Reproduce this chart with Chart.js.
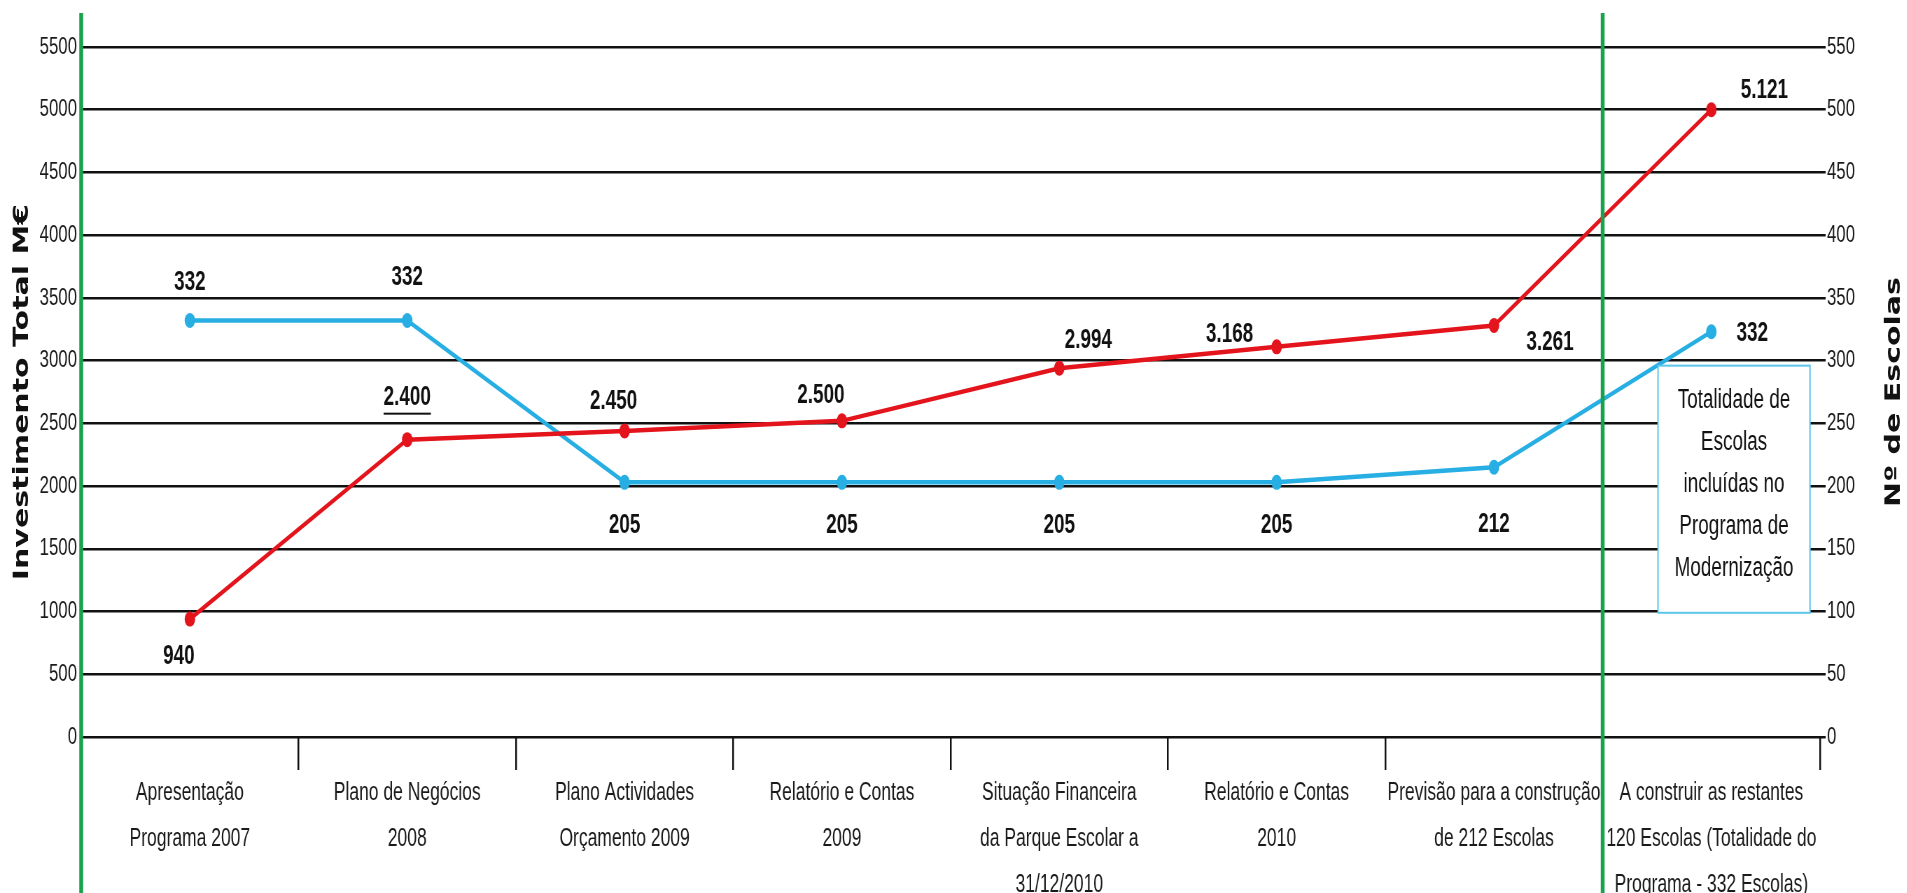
<!DOCTYPE html>
<html lang="pt">
<head>
<meta charset="UTF-8">
<title>Investimento Total e Nº de Escolas</title>
<script src="https://cdn.jsdelivr.net/npm/chart.js@4.4.1/dist/chart.umd.min.js"></script>
<style>
  html, body { margin: 0; padding: 0; background: #fff; overflow: hidden; width: 1907px; height: 893px; }
  /* the reference is squeezed sideways, so draw wide and squeeze the same way */
  #wrap { width: 2724px; height: 893px; transform: scaleX(0.7); transform-origin: 0 0; }
</style>
</head>
<body>
<div id="wrap"><canvas id="chart" width="2724" height="893"></canvas></div>

<script>
const categories = [
  ['Apresentação', 'Programa 2007'],
  ['Plano de Negócios', '2008'],
  ['Plano Actividades', 'Orçamento 2009'],
  ['Relatório e Contas', '2009'],
  ['Situação Financeira', 'da Parque Escolar a', '31/12/2010'],
  ['Relatório e Contas', '2010'],
  ['Previsão para a construção', 'de 212 Escolas'],
  ['A construir as restantes', '120 Escolas (Totalidade do', 'Programa - 332 Escolas)']
];
const investimento = [940, 2370, 2440, 2520, 2940, 3110, 3280, 5000];
const escolas = [332, 332, 203, 203, 203, 203, 215, 323];
const investimentoLabels = ['940', '2.400', '2.450', '2.500', '2.994', '3.168', '3.261', '5.121'];
const escolasLabels = ['332', '332', '205', '205', '205', '205', '212', '332'];
const boxText = ['Totalidade de', 'Escolas', 'incluídas no', 'Programa de', 'Modernização'];
const leftTitle = 'Investimento Total M€';
const rightTitle = 'Nº de Escolas';

const S = 0.7;
const RED = '#e3141c';
const BLUE = '#27aee3';
const GREEN = '#17a24b';
const NARROW = "'Liberation Sans', Arial, sans-serif";

// label offsets from each point (screen px, before the sideways squeeze)
const labelOffsets = [
  [[-11, 37], [0, -42], [-11, -29], [-21, -25], [29, -28], [-47, -12], [56, 17], [53, -19]],
  [[0, -38], [0, -43], [0, 43], [0, 43], [0, 43], [0, 43], [0, 57], [41, 2]]
];
const labelTexts = [investimentoLabels, escolasLabels];

const extras = {
  id: 'extras',
  afterDatasetsDraw(chart) {
    const ctx = chart.ctx;
    ctx.save();
    ctx.font = "bold 27px " + NARROW;
    ctx.fillStyle = '#111';
    ctx.textAlign = 'center';
    ctx.textBaseline = 'middle';
    chart.data.datasets.forEach((ds, di) => {
      chart.getDatasetMeta(di).data.forEach((pt, i) => {
        const [dx, dy] = labelOffsets[di][i];
        const x = pt.x + dx / S, y = pt.y + dy;
        const t = labelTexts[di][i];
        ctx.fillText(t, x, y);
        if (di === 0 && i === 1) {
          const w = ctx.measureText(t).width;
          ctx.fillRect(x - w / 2, y + 15, w, 2);
        }
      });
    });

    // note box on the right
    const a = chart.chartArea, y1 = chart.scales.y1;
    const right = a.right - 10 / S, left = right - 152 / S;
    const top = y1.getPixelForValue(296), bottom = y1.getPixelForValue(99);
    ctx.fillStyle = '#fff';
    ctx.fillRect(left, top, right - left, bottom - top);
    ctx.strokeStyle = '#5cc6ea';
    ctx.lineWidth = 2;
    ctx.strokeRect(left, top, right - left, bottom - top);
    ctx.fillStyle = '#111';
    ctx.font = "27px " + NARROW;
    const mid = (top + bottom) / 2 - 5;
    boxText.forEach((line, i) => {
      ctx.fillText(line, (left + right) / 2, mid + (i - 2) * 42);
    });
    ctx.restore();
  },
  afterDraw(chart) {
    const ctx = chart.ctx, a = chart.chartArea;
    const xs = chart.scales.x;
    ctx.save();
    ctx.strokeStyle = GREEN;
    ctx.lineWidth = 5.5;
    [a.left, xs.getPixelForValue(6.5)].forEach(x => {
      ctx.beginPath();
      ctx.moveTo(x, 13);
      ctx.lineTo(x, chart.height);
      ctx.stroke();
    });

    ctx.fillStyle = '#111';
    ctx.font = "bold 30px 'DejaVu Sans', sans-serif";
    ctx.textAlign = 'center';
    ctx.textBaseline = 'middle';
    const cy = (a.top + a.bottom) / 2;
    ctx.save();
    ctx.translate(32, cy);
    ctx.rotate(-Math.PI / 2);
    ctx.fillText(leftTitle, 0, 0);
    ctx.restore();
    ctx.save();
    ctx.translate(2706, cy);
    ctx.rotate(-Math.PI / 2);
    ctx.fillText(rightTitle, 0, 0);
    ctx.restore();
    ctx.restore();
  }
};

new Chart(document.getElementById('chart'), {
  type: 'line',
  data: {
    labels: categories,
    datasets: [
      {
        label: 'Investimento Total M€',
        data: investimento,
        yAxisID: 'y',
        borderColor: RED,
        backgroundColor: RED,
        borderWidth: 4.5,
        pointRadius: 7.5,
        pointBorderWidth: 0,
        tension: 0
      },
      {
        label: 'Nº de Escolas',
        data: escolas,
        yAxisID: 'y1',
        borderColor: BLUE,
        backgroundColor: BLUE,
        borderWidth: 4.5,
        pointRadius: 7.5,
        pointBorderWidth: 0,
        tension: 0
      }
    ]
  },
  options: {
    responsive: false,
    animation: false,
    layout: { padding: { top: 47, bottom: 0, left: 0, right: 0 } },
    plugins: { legend: { display: false }, tooltip: { enabled: false } },
    scales: {
      x: {
        offset: true,
        grid: { display: true, drawOnChartArea: false, drawTicks: true, tickLength: 33, offset: true, color: '#111', lineWidth: 2.5 },
        border: { display: false },
        ticks: { color: '#1a1a1a', padding: 0, maxRotation: 0, autoSkip: false, font: { family: NARROW, size: 25, lineHeight: 1.84 } },
        afterFit(s) { s.height = 156; }
      },
      y: {
        position: 'left',
        min: 0, max: 5500,
        ticks: { stepSize: 500, color: '#1a1a1a', padding: 6, font: { family: NARROW, size: 24 }, callback: v => String(v) },
        grid: { color: '#111', lineWidth: 2.5, drawTicks: false },
        border: { display: false },
        afterFit(s) { s.width = 116; }
      },
      y1: {
        position: 'right',
        min: 0, max: 550,
        ticks: { stepSize: 50, color: '#1a1a1a', padding: 2, font: { family: NARROW, size: 24 }, callback: v => String(v) },
        grid: { drawOnChartArea: false, color: '#111', lineWidth: 2.5, tickLength: 8 },
        border: { display: false },
        afterFit(s) { s.width = 124; }
      }
    }
  },
  plugins: [extras]
});
</script>
</body>
</html>
